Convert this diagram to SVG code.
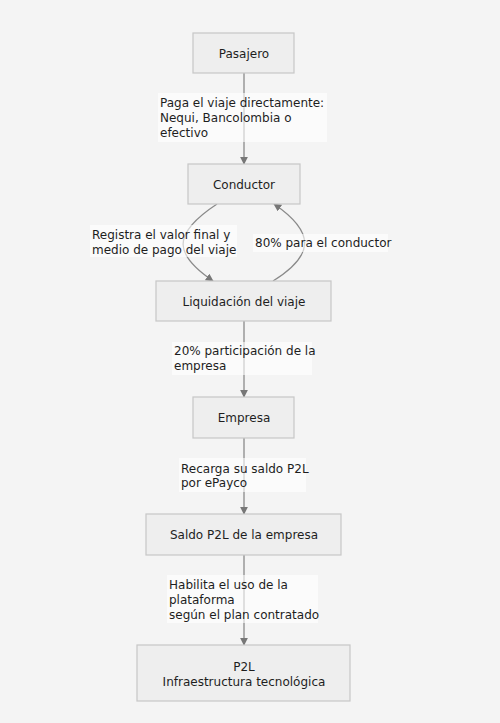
<svg xmlns="http://www.w3.org/2000/svg" width="500" height="723" viewBox="0 0 500 723">
<defs>
<style>
.n rect{fill:#eeeeee;stroke:#c6c6c6;stroke-width:1.2}
text{font-family:"DejaVu Sans","Noto Sans",sans-serif;font-size:12px;fill:#1e1e1e}
.c{text-anchor:middle}
.e{fill:none;stroke:#8a8a8a;stroke-width:1.3}
.lb{fill:#ffffff;fill-opacity:0.6}
</style>
<marker id="ah" viewBox="0 0 10 10" refX="9" refY="5" markerWidth="8" markerHeight="8" markerUnits="userSpaceOnUse" orient="auto">
<path d="M0,0 L10,5 L0,10 z" fill="#777"/>
</marker>
</defs>
<rect width="500" height="723" fill="#f4f4f4"/>
<g id="connectors">
<path class="e" d="M244,73 L244,164" marker-end="url(#ah)"/>
<path class="e" d="M217,204 C170,235 175,255 213,281" marker-end="url(#ah)"/>
<path class="e" d="M273,281 C315,255 315,232 274,204" marker-end="url(#ah)"/>
<path class="e" d="M244,321 L244,397" marker-end="url(#ah)"/>
<path class="e" d="M244,438 L244,514" marker-end="url(#ah)"/>
<path class="e" d="M244,555 L244,645" marker-end="url(#ah)"/>
<g id="labels">
<rect class="lb" x="158" y="93" width="169" height="49"/>
<text x="160" y="107">Paga el viaje directamente:</text>
<text x="160" y="122">Nequi, Bancolombia o</text>
<text x="160" y="137">efectivo</text>
<rect class="lb" x="90" y="225" width="147" height="32"/>
<text x="92" y="239">Registra el valor final y</text>
<text x="92" y="254">medio de pago del viaje</text>
<rect class="lb" x="253" y="234" width="135" height="18"/>
<text x="255" y="247">80% para el conductor</text>
<rect class="lb" x="172" y="342" width="140" height="33"/>
<text x="174" y="355">20% participación de la</text>
<text x="174" y="370">empresa</text>
<rect class="lb" x="179" y="458" width="127" height="34"/>
<text x="181" y="473">Recarga su saldo P2L</text>
<text x="181" y="487">por ePayco</text>
<rect class="lb" x="167" y="575" width="151" height="48"/>
<text x="169" y="589">Habilita el uso de la</text>
<text x="169" y="604">plataforma</text>
<text x="169" y="619">según el plan contratado</text>
</g>
</g>
<g id="pasajero" class="n"><rect x="193" y="33" width="101" height="40"/><text class="c" x="244" y="58">Pasajero</text></g>
<g id="conductor" class="n"><rect x="188" y="164" width="112" height="40"/><text class="c" x="244" y="189">Conductor</text></g>
<g id="liquidacion" class="n"><rect x="156" y="281" width="175" height="40"/><text class="c" x="244" y="306">Liquidación del viaje</text></g>
<g id="empresa" class="n"><rect x="193" y="397" width="101" height="41"/><text class="c" x="244" y="422">Empresa</text></g>
<g id="saldo" class="n"><rect x="146" y="514" width="195" height="41"/><text class="c" x="244" y="539">Saldo P2L de la empresa</text></g>
<g id="p2l" class="n"><rect x="137" y="645" width="213" height="56"/><text class="c" x="244" y="671">P2L</text><text class="c" x="244" y="686">Infraestructura tecnológica</text></g>
</svg>
